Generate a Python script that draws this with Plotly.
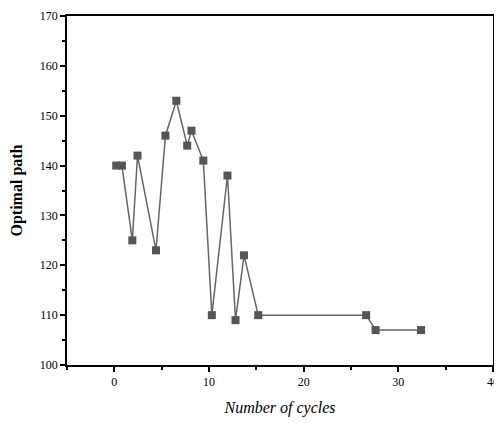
import plotly.graph_objects as go

cycles = [0.2, 0.8, 1.9, 2.45, 4.4, 5.4, 6.55, 7.7, 8.15, 9.4, 10.3, 11.95, 12.8, 13.7, 15.2, 26.6, 27.6, 32.4]
path = [140, 140, 125, 142, 123, 146, 153, 144, 147, 141, 110, 138, 109, 122, 110, 110, 107, 107]

x_ticks = [0, 10, 20, 30, 40]
y_ticks = [100, 110, 120, 130, 140, 150, 160, 170]

fig = go.Figure()
fig.add_trace(go.Scatter(
    x=cycles, y=path, mode="lines+markers",
    line=dict(color="#666666", width=1.5),
    marker=dict(symbol="square", size=8, color="#555555"),
    showlegend=False, cliponaxis=False,
))

axis_common = dict(
    showline=True, linecolor="black", linewidth=1.5, mirror=True,
    showgrid=False, zeroline=False, ticks="outside", ticklen=5, tickwidth=1.5,
    tickcolor="black", tickfont=dict(family="Liberation Serif", size=12, color="black"),
    automargin=False, ticklabeloverflow="allow",
)

# page body has an 8px default margin; compensate so the plot area sits where the reference has it
fig.update_layout(
    width=494, height=415,
    margin=dict(l=59, r=9, t=8, b=58),
    plot_bgcolor="white", paper_bgcolor="white",
    xaxis=dict(range=[-5, 40], tickvals=x_ticks,
               minor=dict(ticks="outside", ticklen=3, dtick=5, tick0=0, tickcolor="black"),
               title=dict(text="<i>Number of cycles</i>", font=dict(family="Liberation Serif", size=16, color="black"), standoff=14),
               **axis_common),
    yaxis=dict(range=[100, 170], tickvals=y_ticks,
               minor=dict(ticks="outside", ticklen=3, dtick=5, tick0=100, tickcolor="black"),
               title=dict(text="<b>Optimal path</b>", font=dict(family="Liberation Serif", size=16, color="black"), standoff=14),
               **axis_common),
)

fig.write_html("out.html")
